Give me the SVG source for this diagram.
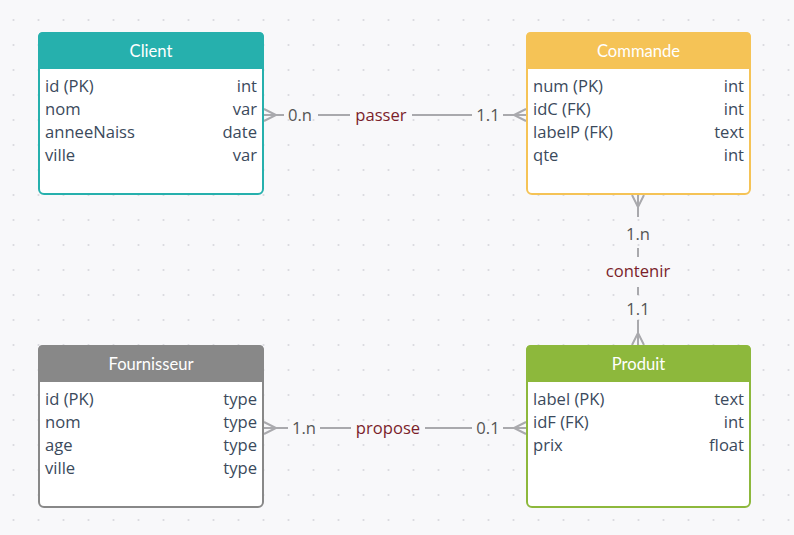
<svg xmlns="http://www.w3.org/2000/svg" width="794" height="535" viewBox="0 0 794 535">
<defs>
<pattern id="dots" x="0" y="0" width="25" height="25" patternUnits="userSpaceOnUse">
<circle cx="13.5" cy="20" r="1.1" fill="#d9d9de"/>
</pattern>
</defs>
<style>
.hdr{font-family:Lato,"Open Sans",sans-serif;font-size:16.6px;fill:#ffffff;text-anchor:middle}
.row{font-family:"Open Sans","Noto Sans",sans-serif;font-size:16.6px;fill:#3b4a5c}
.typ{font-family:"Open Sans","Noto Sans",sans-serif;font-size:16.6px;fill:#3b4a5c;text-anchor:end}
.card{font-family:"Open Sans","Noto Sans",sans-serif;font-size:16.6px;fill:#555555;text-anchor:middle}
.rel{font-family:"Open Sans","Noto Sans",sans-serif;font-size:16.6px;fill:#7b1e2a;text-anchor:middle}
.ln{stroke:#a9a9ad;stroke-width:2;fill:none}
</style>
<rect width="794" height="535" fill="#f8f8fa"/>
<rect width="794" height="535" fill="url(#dots)"/>

<g id="connectors">
<!-- passer -->
<path class="ln" d="M264,109 L276,115 L264,121 M264,115 L284,115 M318,115 L350,115 M412,115 L472,115 M503,115 L526,115 M526,109 L514,115 L526,121"/>
<text class="card" x="300" y="121">0.n</text>
<text class="rel" x="381" y="121">passer</text>
<text class="card" x="488" y="121">1.1</text>
<!-- contenir -->
<path class="ln" d="M632,195 L638,207 L644,195 M638,195 L638,217 M638,248 L638,257 M638,287 L638,295 M638,320 L638,345 M632,345 L638,333 L644,345"/>
<text class="card" x="638" y="240">1.n</text>
<text class="rel" x="638" y="277">contenir</text>
<text class="card" x="638" y="315">1.1</text>
<!-- propose -->
<path class="ln" d="M264,422 L276,428 L264,434 M264,428 L288,428 M320,428 L351,428 M425,428 L472,428 M503,428 L526,428 M526,422 L514,428 L526,434"/>
<text class="card" x="304" y="434">1.n</text>
<text class="rel" x="388" y="434">propose</text>
<text class="card" x="488" y="434">0.1</text>
</g>

<g id="client">
<rect x="39" y="33" width="224" height="161" rx="5" fill="#ffffff" stroke="#26b0ad" stroke-width="2"/>
<path d="M38,69 L38,37 Q38,32 43,32 L259,32 Q264,32 264,37 L264,69 Z" fill="#26b0ad"/>
<text class="hdr" x="151" y="57">Client</text>
<text class="row" x="45" y="92">id (PK)</text><text class="typ" x="257" y="92">int</text>
<text class="row" x="45" y="115">nom</text><text class="typ" x="257" y="115">var</text>
<text class="row" x="45" y="138">anneeNaiss</text><text class="typ" x="257" y="138">date</text>
<text class="row" x="45" y="161">ville</text><text class="typ" x="257" y="161">var</text>
</g>

<g id="commande">
<rect x="527" y="33" width="223" height="161" rx="5" fill="#ffffff" stroke="#f5c356" stroke-width="2"/>
<path d="M526,69 L526,37 Q526,32 531,32 L746,32 Q751,32 751,37 L751,69 Z" fill="#f5c356"/>
<text class="hdr" x="638.5" y="57">Commande</text>
<text class="row" x="533" y="92">num (PK)</text><text class="typ" x="744" y="92">int</text>
<text class="row" x="533" y="115">idC (FK)</text><text class="typ" x="744" y="115">int</text>
<text class="row" x="533" y="138">labelP (FK)</text><text class="typ" x="744" y="138">text</text>
<text class="row" x="533" y="161">qte</text><text class="typ" x="744" y="161">int</text>
</g>

<g id="fournisseur">
<rect x="39" y="346" width="224" height="161" rx="5" fill="#ffffff" stroke="#888888" stroke-width="2"/>
<path d="M38,382 L38,350 Q38,345 43,345 L259,345 Q264,345 264,350 L264,382 Z" fill="#888888"/>
<text class="hdr" x="151" y="370">Fournisseur</text>
<text class="row" x="45" y="405">id (PK)</text><text class="typ" x="257" y="405">type</text>
<text class="row" x="45" y="428">nom</text><text class="typ" x="257" y="428">type</text>
<text class="row" x="45" y="451">age</text><text class="typ" x="257" y="451">type</text>
<text class="row" x="45" y="474">ville</text><text class="typ" x="257" y="474">type</text>
</g>

<g id="produit">
<rect x="527" y="346" width="223" height="161" rx="5" fill="#ffffff" stroke="#8db83c" stroke-width="2"/>
<path d="M526,382 L526,350 Q526,345 531,345 L746,345 Q751,345 751,350 L751,382 Z" fill="#8db83c"/>
<text class="hdr" x="638.5" y="370">Produit</text>
<text class="row" x="533" y="405">label (PK)</text><text class="typ" x="744" y="405">text</text>
<text class="row" x="533" y="428">idF (FK)</text><text class="typ" x="744" y="428">int</text>
<text class="row" x="533" y="451">prix</text><text class="typ" x="744" y="451">float</text>
</g>
</svg>
